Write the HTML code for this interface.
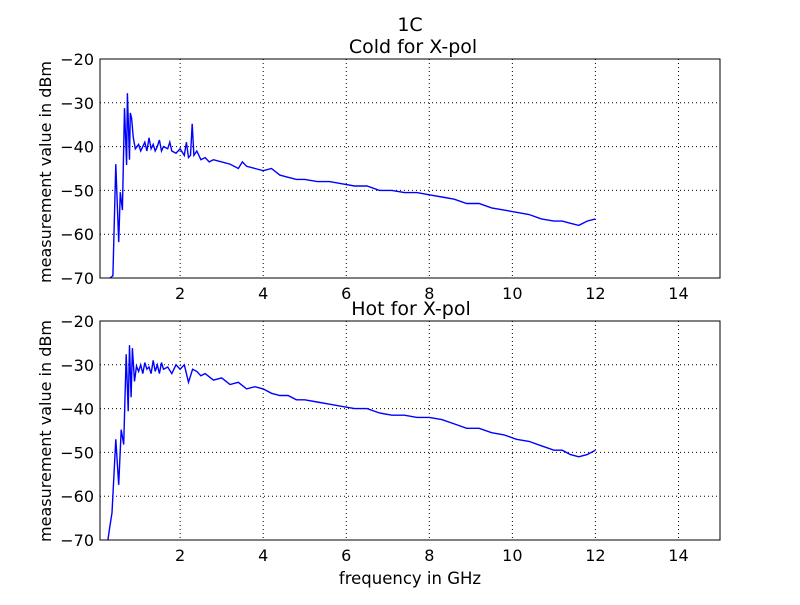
<!DOCTYPE html>
<html><head><meta charset="utf-8"><style>
body{margin:0;background:#fff;}
svg text{font-family:"DejaVu Sans","Liberation Sans",sans-serif;}
</style></head><body>
<svg id="chart" width="800" height="600" xmlns="http://www.w3.org/2000/svg">
<rect width="800" height="600" fill="#fff"/>
<text x="410" y="31" font-size="19" text-anchor="middle">1C</text>
<text x="413" y="53" font-size="19" text-anchor="middle">Cold for X-pol</text>
<text x="411" y="315" font-size="19" text-anchor="middle">Hot for X-pol</text>
<text x="410" y="584" font-size="16.5" text-anchor="middle">frequency in GHz</text>
<text transform="translate(51,172) rotate(-90)" font-size="16" text-anchor="middle">measurement value in dBm</text>
<text transform="translate(51,431) rotate(-90)" font-size="16" text-anchor="middle">measurement value in dBm</text>
<g id="top"></g><g id="bottom"></g>
</svg>
<script>
const xTicks=[2,4,6,8,10,12,14];
const yTicks=[-20,-30,-40,-50,-60,-70];
const coldFreq=[0.31,0.38,0.45,0.52,0.56,0.61,0.66,0.71,0.73,0.78,0.8,0.83,0.87,0.92,1.0,1.05,1.1,1.15,1.2,1.25,1.3,1.35,1.4,1.45,1.5,1.55,1.6,1.7,1.75,1.8,1.9,2.0,2.1,2.15,2.2,2.25,2.29,2.33,2.4,2.5,2.6,2.7,2.8,3.0,3.2,3.4,3.5,3.6,3.8,4.0,4.2,4.4,4.6,4.8,5.0,5.3,5.6,5.9,6.2,6.5,6.8,7.1,7.4,7.7,8.0,8.3,8.6,8.9,9.2,9.5,9.8,10.1,10.4,10.7,11.0,11.2,11.4,11.6,11.8,12.0];
const coldVals=[-70,-69.5,-44,-61.8,-50.4,-54.5,-31.2,-44.2,-27.8,-43,-32.3,-33.5,-37.8,-40.5,-39.5,-41,-40,-39,-41,-38,-40.5,-39.5,-41,-40,-38.5,-41,-40,-40.5,-39,-41,-41.5,-40.5,-42,-39,-42.5,-42,-34.8,-42,-41,-43,-42.5,-43.5,-43,-43.5,-44,-45,-43.5,-44.5,-45,-45.5,-45,-46.5,-47,-47.5,-47.5,-48,-48,-48.5,-49,-49,-50,-50,-50.5,-50.5,-51,-51.5,-52,-53,-53,-54,-54.5,-55,-55.5,-56.5,-57,-57,-57.5,-58,-57,-56.5];
const hotFreq=[0.26,0.3,0.36,0.45,0.52,0.58,0.64,0.7,0.75,0.78,0.82,0.85,0.9,0.95,1.0,1.05,1.1,1.15,1.2,1.25,1.3,1.35,1.4,1.45,1.5,1.55,1.6,1.7,1.8,1.9,2.0,2.1,2.2,2.3,2.4,2.5,2.6,2.8,3.0,3.2,3.4,3.6,3.8,4.0,4.2,4.4,4.6,4.8,5.0,5.3,5.6,5.9,6.2,6.5,6.8,7.1,7.4,7.7,8.0,8.3,8.6,8.9,9.2,9.5,9.8,10.1,10.4,10.7,11.0,11.2,11.4,11.6,11.8,12.0];
const hotVals=[-70,-67.3,-63.8,-47,-57.4,-44.8,-48.2,-27.6,-40.6,-25.5,-37.4,-26.2,-33.8,-30.3,-31.5,-30,-32,-29.5,-31,-30.5,-32,-29,-31.5,-30,-32,-29.5,-31,-30.5,-32,-30,-31,-30,-34,-31,-31.5,-32.5,-32,-33.5,-33,-34.5,-34,-35.5,-35,-35.5,-36.5,-37,-37,-38,-38,-38.5,-39,-39.5,-40,-40,-41,-41.5,-41.5,-42,-42,-42.5,-43.5,-44.5,-44.5,-45.5,-46,-47,-47.5,-48.5,-49.5,-49.5,-50.5,-51,-50.5,-49.5];
const NS="http://www.w3.org/2000/svg";
function mk(t,a,p){const e=document.createElementNS(NS,t);for(const k in a)e.setAttribute(k,a[k]);p.appendChild(e);return e;}
function panel(g,top,freq,vals,pref){
  const L=100,R=720,T=top,B=top+219;
  const xs=f=>L+(f-0.07)/(15-0.07)*(R-L);
  const ys=v=>T+(-20-v)/50*(B-T);
  xTicks.forEach(t=>{
    const l=mk('line',{x1:xs(t),x2:xs(t),y1:T,y2:B,stroke:'#000','stroke-dasharray':'1,3','stroke-width':1},g);
    
    
    const tx=mk('text',{x:xs(t),y:B+21,'font-size':16,'text-anchor':'middle'},g);
    tx.textContent=t;
    
    
  });
  yTicks.forEach(t=>{
    const l=mk('line',{x1:L,x2:R,y1:ys(t),y2:ys(t),stroke:'#000','stroke-dasharray':'1,3','stroke-width':1},g);
    
    
    const tx=mk('text',{x:L-6,y:ys(t)+6,'font-size':16,'text-anchor':'end'},g);
    tx.textContent='\u2212'+Math.abs(t);
    
    
  });
  const d=freq.map((f,i)=>(i?'L':'M')+xs(f).toFixed(1)+' '+ys(vals[i]).toFixed(1)).join(' ');
  const p=mk('path',{d:d,fill:'none',stroke:'#0000ff','stroke-width':1.4},g);
  
  
  const f=mk('rect',{x:L,y:T,width:R-L,height:B-T,fill:'none',stroke:'#000','stroke-width':1},g);
  
  
}
panel(document.getElementById('top'),59,coldFreq,coldVals,'cold');
panel(document.getElementById('bottom'),321,hotFreq,hotVals,'hot');
</script>
</body></html>
